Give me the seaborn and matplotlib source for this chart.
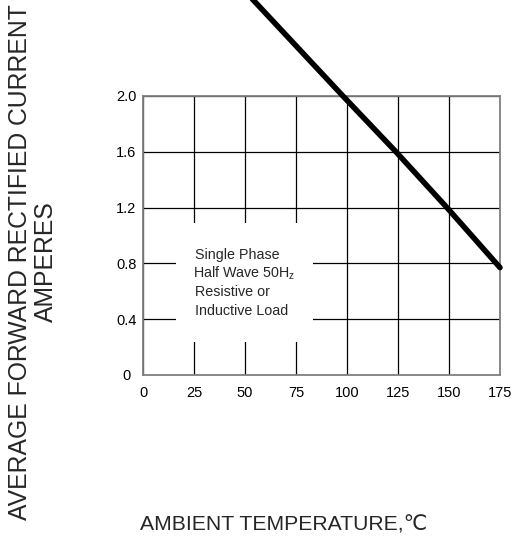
import matplotlib.pyplot as plt
import matplotlib.patches as mpatches
import seaborn as sns
import pandas as pd

# derating curve
temperature = [52, 98, 124, 149, 175]
current = [2.72, 2.0, 1.6, 1.2, 0.77]

x_ticks = [0, 25, 50, 75, 100, 125, 150, 175]
y_ticks = [0, 0.4, 0.8, 1.2, 1.6, 2.0]
y_tick_labels = ["0", "0.4", "0.8", "1.2", "1.6", "2.0"]

note_lines = ["Single Phase", "Half Wave 50H$\\mathregular{_z}$",
              "Resistive or", "Inductive Load"]

df = pd.DataFrame({"temp": temperature, "amps": current})

sns.set_style("white")
plt.rcParams["font.family"] = ["Liberation Sans", "DejaVu Sans"]

fig = plt.figure(figsize=(5.19, 5.40), dpi=100)
ax = fig.add_axes([143 / 519, 165 / 540, 357 / 519, 279 / 540])

sns.lineplot(data=df, x="temp", y="amps", ax=ax, color="black",
             linewidth=4, clip_on=False, zorder=5)

ax.set_xlim(0, 175)
ax.set_ylim(0, 2.0)
ax.set_xticks(x_ticks)
ax.set_yticks(y_ticks)
ax.set_yticklabels(y_tick_labels)
ax.set_axisbelow(True)
ax.grid(True, color="black", linewidth=0.9)
ax.tick_params(length=0, labelsize=10.5, colors="black")
ax.tick_params(axis="y", pad=12)
ax.tick_params(axis="x", pad=8)
for lab in ax.get_yticklabels():
    lab.set_ha("center")
for sp in ax.spines.values():
    sp.set_color("#808080")
    sp.set_linewidth(1.3)
ax.set(xlabel="", ylabel="")

# white box that breaks the grid behind the note
ax.add_patch(mpatches.Rectangle((16.4, 0.237), 66.9, 0.853, facecolor="white",
                                edgecolor="none", zorder=1))
for i, line in enumerate(note_lines):
    dx = -1.4 if "$" in line else 0   # mathtext line sits a bit to the right
    ax.annotate(line, xy=(25.3, 0.863), xytext=(dx, -13.6 * i),
                textcoords="offset points", ha="left", va="center",
                fontsize=10.3, zorder=3)

fig.text(33 / 519, 1 - 262 / 540, "AVERAGE FORWARD RECTIFIED CURRENT\nAMPERES",
         rotation=90, ha="center", va="center", multialignment="center",
         fontsize=17.8, linespacing=1.1)
fig.text(140 / 519, 1 - 525 / 540, "AMBIENT TEMPERATURE,\u2103",
         ha="left", va="center", fontsize=15.2)

fig.savefig("out.png", dpi=100)
